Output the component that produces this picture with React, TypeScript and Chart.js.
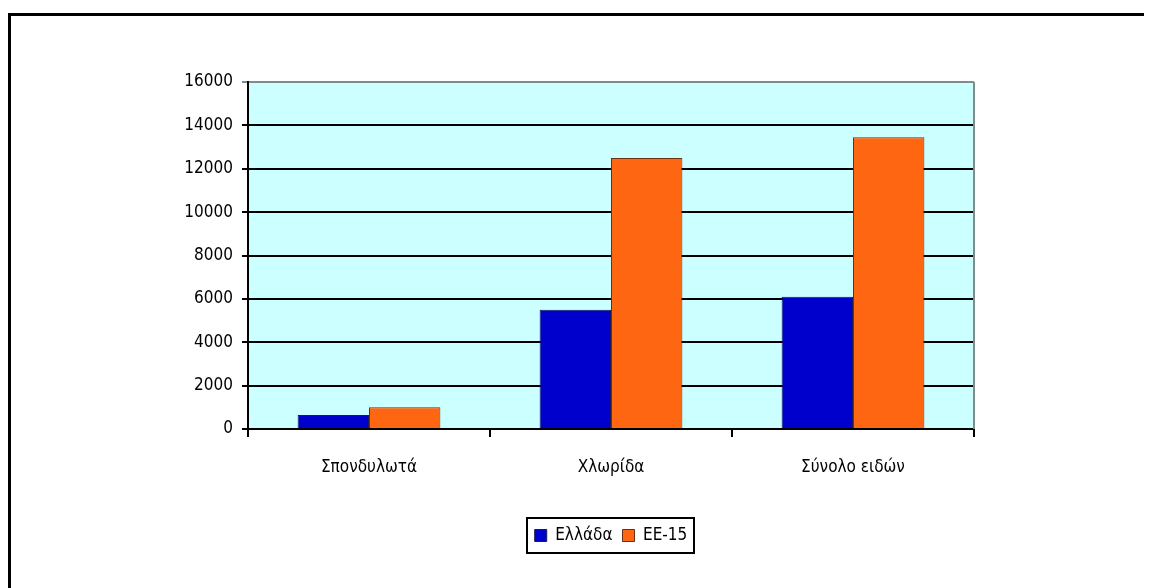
import React, { useEffect, useRef } from "react";
import { Chart, registerables } from "chart.js";

Chart.register(...registerables);

const categories = ["Σπονδυλωτά", "Χλωρίδα", "Σύνολο ειδών"];
const seriesNames = ["Ελλάδα", "ΕΕ-15"];
const greece = [650, 5500, 6100];
const eu15 = [1000, 12500, 13450];
const yMin = 0;
const yMax = 16000;
const yStep = 2000;

const FONT = "'Liberation Sans Narrow', 'DejaVu Sans Condensed', 'Liberation Sans', Arial, sans-serif";

const framePlugin = {
  id: "frame",
  beforeDraw(chart: any) {
    const { ctx, chartArea } = chart;
    ctx.save();
    ctx.fillStyle = "#CCFFFF";
    ctx.fillRect(chartArea.left, chartArea.top, chartArea.right - chartArea.left, chartArea.bottom - chartArea.top);
    ctx.restore();
  },
  beforeDatasetsDraw(chart: any) {
    const { ctx, chartArea } = chart;
    ctx.save();
    ctx.strokeStyle = "#7f8c8c";
    ctx.lineWidth = 2;
    ctx.beginPath();
    ctx.moveTo(chartArea.right, chartArea.top);
    ctx.lineTo(chartArea.right, chartArea.bottom);
    ctx.stroke();
    ctx.restore();
  },
  afterDraw(chart: any) {
    const legend = chart.legend;
    if (!legend || !legend.legendHitBoxes || !legend.legendHitBoxes.length) return;
    const boxes = legend.legendHitBoxes;
    let l = Infinity, r = -Infinity, t = Infinity, b = -Infinity;
    boxes.forEach((h: any) => {
      l = Math.min(l, h.left);
      r = Math.max(r, h.left + h.width);
      t = Math.min(t, h.top);
      b = Math.max(b, h.top + h.height);
    });
    const { ctx } = chart;
    ctx.save();
    ctx.strokeStyle = "#000";
    ctx.lineWidth = 2;
    ctx.strokeRect(Math.round(l - 8), Math.round(t - 9), Math.round(r - l + 14), Math.round(b - t + 18));
    ctx.restore();
  },
};

export default function App() {
  const ref = useRef<HTMLCanvasElement | null>(null);

  useEffect(() => {
    document.body.style.overflow = "hidden";
    const canvas = ref.current;
    if (!canvas) return;
    const chart = new Chart(canvas, {
      type: "bar",
      data: {
        labels: categories,
        datasets: [
          {
            label: seriesNames[0],
            data: greece,
            backgroundColor: "#0000CC",
            borderColor: "#1a1a55",
            borderWidth: 1,
            barPercentage: 1,
            categoryPercentage: 0.59,
          },
          {
            label: seriesNames[1],
            data: eu15,
            backgroundColor: "#FF6611",
            borderColor: "#6a3010",
            borderWidth: 1,
            barPercentage: 1,
            categoryPercentage: 0.59,
          },
        ],
      },
      options: {
        responsive: false,
        animation: false,
        layout: { padding: { left: 167, right: 178, top: 66, bottom: 34 } },
        plugins: {
          tooltip: { enabled: false },
          legend: {
            position: "bottom",
            fullSize: false,
            labels: {
              color: "#000",
              font: { family: FONT, size: 17 },
              boxWidth: 12,
              boxHeight: 12,
              padding: 10,
            },
          },
        },
        scales: {
          x: {
            afterFit(scale: any) {
              scale.height = 88;
            },
            grid: {
              offset: true,
              drawOnChartArea: false,
              drawTicks: true,
              tickLength: 8,
              color: "#000",
              lineWidth: 2,
            },
            border: { color: "#000", width: 2 },
            ticks: {
              color: "#000",
              font: { family: FONT, size: 17 },
              padding: 20,
            },
          },
          y: {
            min: yMin,
            max: yMax,
            afterFit(scale: any) {
              scale.width = 70;
            },
            grid: {
              color: (c: any) => (c.tick && c.tick.value === yMax ? "#7f8c8c" : "#000"),
              lineWidth: 2,
              tickLength: 6,
              drawTicks: true,
            },
            border: { color: "#000", width: 2 },
            ticks: {
              stepSize: yStep,
              color: "#000",
              font: { family: FONT, size: 17 },
              padding: 9,
              callback: (v: any) => String(v),
            },
          },
        },
      },
      plugins: [framePlugin],
    });
    return () => chart.destroy();
  }, []);

  return (
    <div
      style={{
        marginTop: 5,
        borderTop: "3px solid #000",
        borderLeft: "3px solid #000",
        width: 1141,
        height: 600,
        overflow: "hidden",
      }}
    >
      <canvas ref={ref} width={1141} height={572} style={{ display: "block" }} />
    </div>
  );
}
